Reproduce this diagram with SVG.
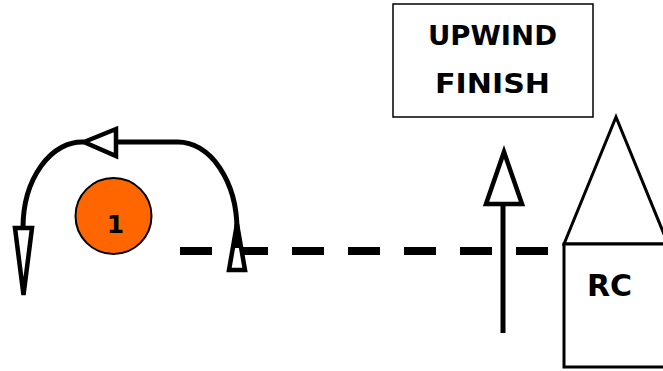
<svg xmlns="http://www.w3.org/2000/svg" width="663" height="371" viewBox="0 0 663 371">
<style>
.ln{fill:none;stroke:#000;stroke-width:5}
.hd{fill:#fff;stroke:#000;stroke-width:4.5}
.bx{fill:#fff;stroke:#000}
.tx{font-family:"DejaVu Sans",sans-serif;font-weight:bold;fill:#000}
</style>
<rect width="663" height="371" fill="#fff"/>
<g id="connectors">
<line x1="180" y1="251" x2="548" y2="251" stroke="#000" stroke-width="8" stroke-dasharray="32 24"/>
<polygon class="hd" points="229,270 245,270 237,224"/>
<path class="ln" d="M237,248 L237,230 A59,88 0 0 0 178,142 L116,142"/>
<polygon class="hd" points="84,142 116,129 116,156"/>
<path class="ln" d="M84,142 A59,86 0 0 0 23,228"/>
<polygon class="hd" stroke-width="4" points="15,228 32,228 23.5,295"/>
<line class="ln" x1="503" y1="206" x2="503" y2="333"/>
<polygon class="hd" stroke-width="5" points="486,204 522,204 504,152"/>
</g>
<g id="mark1">
<circle cx="113.5" cy="216" r="38" fill="#FF6600" stroke="#000" stroke-width="2"/>
<text class="tx" x="115.5" y="233" font-size="25" text-anchor="middle">1</text>
</g>
<g id="upwind-finish">
<rect class="bx" x="393" y="4" width="200" height="113" stroke-width="1.5"/>
<text class="tx" x="492.5" y="45" font-size="27" text-anchor="middle" textLength="129" lengthAdjust="spacingAndGlyphs">UPWIND</text>
<text class="tx" x="492.5" y="93" font-size="27" text-anchor="middle" textLength="115" lengthAdjust="spacingAndGlyphs">FINISH</text>
</g>
<g id="rc-boat">
<polygon class="bx" stroke-width="3" points="564,244 616,117 668,244"/>
<rect class="bx" x="564" y="244" width="110" height="123" stroke-width="3"/>
<text class="tx" x="587" y="296" font-size="30">RC</text>
</g>
</svg>
